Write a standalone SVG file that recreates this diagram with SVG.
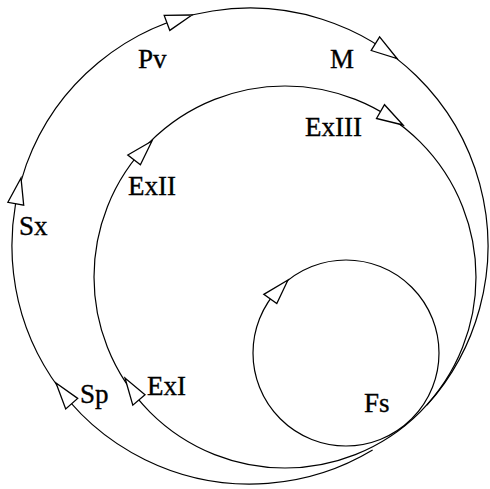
<svg xmlns="http://www.w3.org/2000/svg" width="490" height="489" viewBox="0 0 490 489">
<style>
.loop{fill:none;stroke:#000;stroke-width:1.2}
.arr{fill:#fff;stroke:#000;stroke-width:1.3;stroke-linejoin:miter}
.lbl{font-family:"Liberation Serif","Times New Roman",serif;font-size:27px;fill:#000;stroke:#000;stroke-width:0.35}
</style>
<rect width="490" height="489" fill="#fff"/>
<g id="connectors">
  <path id="outer-loop" class="loop" d="M 372.6 450 A 238 238 0 1 1 426.9 405.2"/>
  <circle id="middle-loop" class="loop" cx="285" cy="277" r="191"/>
  <circle id="inner-loop" class="loop" cx="346" cy="353" r="93"/>
  <g id="arrowheads">
    <polygon class="arr" points="192,15 164.2,15.4 169.8,30.4"/>
    <polygon class="arr" points="397,58.5 379.6,36.9 371.2,50.5"/>
    <polygon class="arr" points="21,178 7.9,202.3 23.7,205.1"/>
    <polygon class="arr" points="56,383 65.7,409 77.7,398.4"/>
    <polygon class="arr" points="152,141 127.8,155 140.4,164.8"/>
    <polygon class="arr" points="403,125 384.5,104.7 376.5,118.5"/>
    <polygon class="arr" points="125,378 132.8,405.2 145,394.8"/>
    <polygon class="arr" points="288,280 263.8,294.4 276.8,303.6"/>
  </g>
</g>
<g id="node-Pv"><text class="lbl" x="138" y="68">Pv</text></g>
<g id="node-M"><text class="lbl" x="330" y="68">M</text></g>
<g id="node-ExIII"><text class="lbl" x="305" y="136">ExIII</text></g>
<g id="node-ExII"><text class="lbl" x="128" y="195">ExII</text></g>
<g id="node-Sx"><text class="lbl" x="19" y="235">Sx</text></g>
<g id="node-Sp"><text class="lbl" x="80" y="403">Sp</text></g>
<g id="node-ExI"><text class="lbl" x="147" y="395">ExI</text></g>
<g id="node-Fs"><text class="lbl" x="364" y="412">Fs</text></g>
</svg>
